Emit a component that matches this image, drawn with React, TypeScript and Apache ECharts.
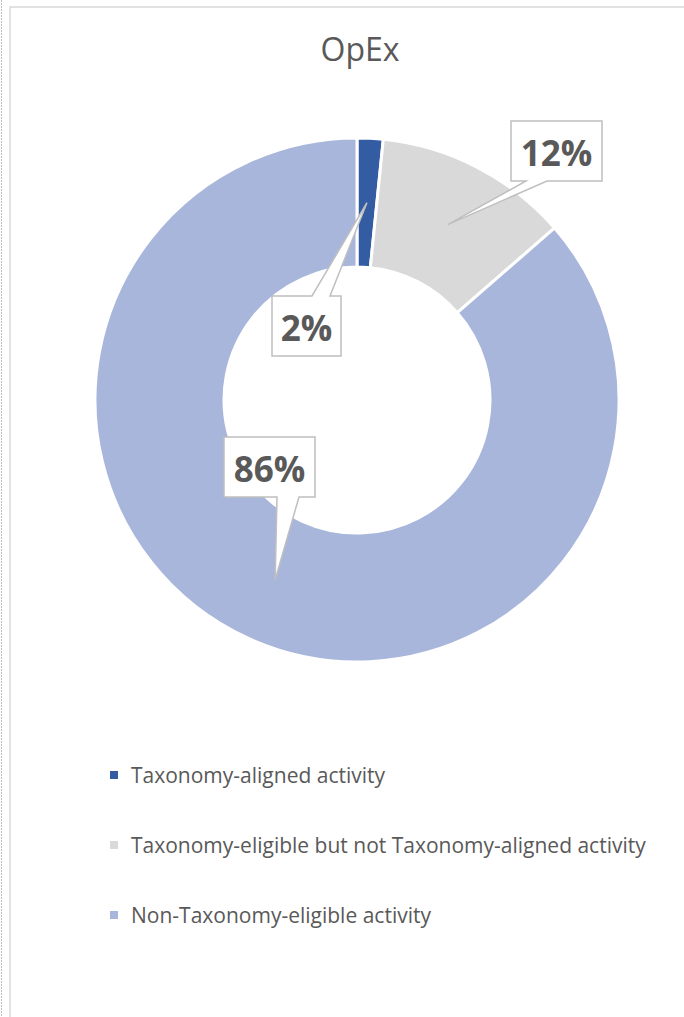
import React, { useEffect, useRef } from "react";
import * as echarts from "echarts";

const categories = [
  "Taxonomy-aligned activity",
  "Taxonomy-eligible but not Taxonomy-aligned activity",
  "Non-Taxonomy-eligible activity",
];
const values = [1.6, 12.0, 86.4];
const colors = ["#335CA3", "#D9D9D9", "#A9B6DB"];
const titleText = "OpEx";

// callout box layout (annotation placement only)
const calloutBoxes = [
  { x: 272, y: 296, w: 69, h: 60, side: "top", b0: 312, b1: 330 },
  { x: 511, y: 121, w: 91, h: 60, side: "bottom", b0: 526, b1: 547 },
  { x: 224, y: 437, w: 91, h: 60, side: "bottom", b0: 277, b1: 299 },
];

const CX = 357;
const CY = 400;
const R0 = 133;
const R1 = 262;
const FONT = "'Open Sans', 'Noto Sans', sans-serif";

export default function App() {
  const ref = useRef<HTMLDivElement>(null);
  useEffect(() => {
    document.body.style.margin = "0";
    const chart = echarts.init(ref.current!, null, { renderer: "svg" });
    const total = values.reduce((a, b) => a + b, 0);
    let cum = 0;
    const graphics: any[] = [];
    values.forEach((v, i) => {
      const mid = cum + v / 2;
      cum += v;
      const theta = ((90 - (360 * mid) / total) * Math.PI) / 180;
      const rm = (R0 + R1) / 2;
      const tx = CX + rm * Math.cos(theta);
      const ty = CY - rm * Math.sin(theta);
      const b = calloutBoxes[i];
      let pts: number[][];
      if (b.side === "bottom") {
        pts = [
          [b.x, b.y],
          [b.x + b.w, b.y],
          [b.x + b.w, b.y + b.h],
          [b.b1, b.y + b.h],
          [tx, ty],
          [b.b0, b.y + b.h],
          [b.x, b.y + b.h],
        ];
      } else {
        pts = [
          [b.x, b.y],
          [b.b0, b.y],
          [tx, ty],
          [b.b1, b.y],
          [b.x + b.w, b.y],
          [b.x + b.w, b.y + b.h],
          [b.x, b.y + b.h],
        ];
      }
      graphics.push({
        type: "polygon",
        z: 100,
        shape: { points: pts },
        style: { fill: "#ffffff", stroke: "#BFBFBF", lineWidth: 1.5 },
      });
      graphics.push({
        type: "text",
        z: 101,
        x: b.x + b.w / 2,
        y: b.y + b.h / 2 + 1,
        style: {
          text: Math.round((v / total) * 100) + "%",
          fill: "#595959",
          font: `bold 35px ${FONT}`,
          textAlign: "center",
          textVerticalAlign: "middle",
        },
      });
    });
    // chart frame
    graphics.push({
      type: "polyline",
      z: 1,
      shape: { points: [[10, 1017], [10, 7], [684, 7]] },
      style: { stroke: "#D9D9D9", lineWidth: 1.5, fill: "none" },
    });
    graphics.push({
      type: "line",
      z: 1,
      shape: { x1: 1.5, y1: 0, x2: 1.5, y2: 1017 },
      style: { stroke: "#BFBFBF", lineWidth: 1, lineDash: [2, 1] },
    });

    chart.setOption({
      animation: false,
      title: {
        text: titleText,
        left: 355,
        top: 27,
        textAlign: "center",
        textStyle: { fontFamily: FONT, fontSize: 32, fontWeight: "normal", color: "#595959" },
      },
      legend: {
        orient: "vertical",
        left: 103,
        top: 758,
        itemGap: 46,
        itemWidth: 10,
        itemHeight: 10,
        icon: "rect",
        data: categories,
        textStyle: {
          fontFamily: FONT,
          fontSize: 21,
          color: "#595959",
          lineHeight: 24,
          padding: [0, 0, 0, 7],
        },
      },
      graphic: graphics,
      series: [
        {
          type: "pie",
          center: [CX, CY],
          radius: [R0, R1],
          startAngle: 90,
          clockwise: true,
          label: { show: false },
          labelLine: { show: false },
          itemStyle: { borderColor: "#ffffff", borderWidth: 3 },
          emphasis: { disabled: true },
          data: categories.map((c, i) => ({
            name: c,
            value: values[i],
            itemStyle: { color: colors[i] },
          })),
        },
      ],
    });
    return () => chart.dispose();
  }, []);
  return <div ref={ref} style={{ width: 684, height: 1017 }} />;
}
